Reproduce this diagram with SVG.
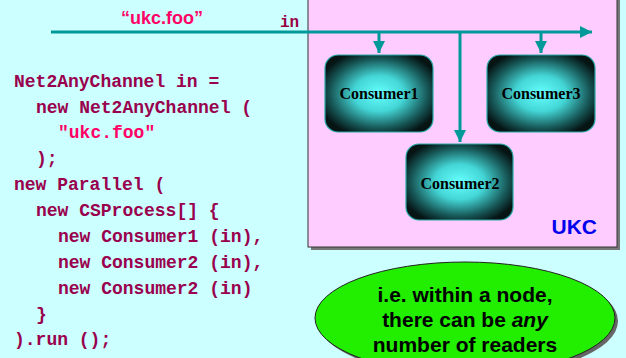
<svg xmlns="http://www.w3.org/2000/svg" width="626" height="358" viewBox="0 0 626 358">
  <defs>
    <radialGradient id="glow" cx="50%" cy="50%" r="58%">
      <stop offset="0" stop-color="#66ffff"/>
      <stop offset="0.4" stop-color="#44d6d6"/>
      <stop offset="0.78" stop-color="#175656"/>
      <stop offset="1" stop-color="#061414"/>
    </radialGradient>
    <marker id="arrow" viewBox="0 0 10 10" refX="10" refY="5" markerWidth="4" markerHeight="4" orient="auto" markerUnits="strokeWidth">
      <path d="M0,0 L10,5 L0,10 z" fill="#009999"/>
    </marker>
    <style>
      .code { font-family: "Liberation Mono", "Courier New", monospace; font-weight: bold; font-size: 18px; fill: #99004d; }
      .str { fill: #ff0066; }
      .wire { stroke: #009999; stroke-width: 3; fill: none; }
      .proc { fill: url(#glow); stroke: #2aa8a8; stroke-width: 1.2; }
      .plabel { font-family: "Liberation Serif", "Times New Roman", serif; font-weight: bold; font-size: 16px; fill: #000; text-anchor: middle; }
      .note { font-family: "Liberation Sans", Arial, sans-serif; font-weight: bold; font-size: 21px; fill: #000; text-anchor: middle; }
    </style>
  </defs>

  <!-- page background -->
  <rect x="0" y="0" width="626" height="358" fill="#ccffff"/>

  <!-- UKC node area -->
  <g id="ukc">
    <rect x="311" y="-5" width="309" height="255" fill="#777777"/>
    <rect x="308" y="-8" width="309" height="255" fill="#ffccff" stroke="#333333" stroke-width="1"/>
    <text x="597" y="234" text-anchor="end" font-family="Liberation Sans, Arial, sans-serif" font-weight="bold" font-size="21" fill="#0000ee">UKC</text>
  </g>

  <!-- channel name labels -->
  <text x="162" y="24" text-anchor="middle" font-family="Liberation Sans, Arial, sans-serif" font-weight="bold" font-size="18" fill="#ff0066">“ukc.foo”</text>
  <text x="280" y="27" font-family="Liberation Mono, Courier New, monospace" font-weight="bold" font-size="16" fill="#990044">in</text>

  <!-- channel wiring -->
  <g id="connectors">
    <line class="wire" x1="51" y1="32" x2="592" y2="32" marker-end="url(#arrow)"/>
    <line class="wire" x1="379" y1="32" x2="379" y2="53" marker-end="url(#arrow)"/>
    <line class="wire" x1="541" y1="32" x2="541" y2="53" marker-end="url(#arrow)"/>
    <line class="wire" x1="460" y1="32" x2="460" y2="142" marker-end="url(#arrow)"/>
  </g>

  <!-- processes -->
  <g id="consumer1">
    <rect class="proc" x="325" y="55" width="108" height="77" rx="13"/>
    <text class="plabel" x="379" y="99">Consumer1</text>
  </g>
  <g id="consumer3">
    <rect class="proc" x="487" y="55" width="108" height="77" rx="13"/>
    <text class="plabel" x="541" y="99">Consumer3</text>
  </g>
  <g id="consumer2">
    <rect class="proc" x="406" y="144" width="107" height="76" rx="13"/>
    <text class="plabel" x="460" y="189">Consumer2</text>
  </g>

  <!-- source code -->
  <g id="code">
    <text class="code" x="14" y="87">Net2AnyChannel in =</text>
    <text class="code" x="36" y="113">new Net2AnyChannel (</text>
    <text class="code str" x="58" y="138">"ukc.foo"</text>
    <text class="code" x="36" y="164">);</text>
    <text class="code" x="14" y="190">new Parallel (</text>
    <text class="code" x="36" y="216">new CSProcess[] {</text>
    <text class="code" x="58" y="242">new Consumer1 (in),</text>
    <text class="code" x="58" y="268">new Consumer2 (in),</text>
    <text class="code" x="58" y="294">new Consumer2 (in)</text>
    <text class="code" x="36" y="320">}</text>
    <text class="code" x="14" y="345">).run ();</text>
  </g>

  <!-- callout -->
  <g id="callout">
    <ellipse cx="468" cy="321" rx="150" ry="56" fill="#666666"/>
    <ellipse cx="465" cy="318" rx="150" ry="56" fill="#22ee00" stroke="#222222" stroke-width="1"/>
    <text class="note" x="465" y="302">i.e. within a node,</text>
    <text class="note" x="465" y="327">there can be <tspan font-style="italic">any</tspan></text>
    <text class="note" x="465" y="352">number of readers</text>
  </g>
</svg>
